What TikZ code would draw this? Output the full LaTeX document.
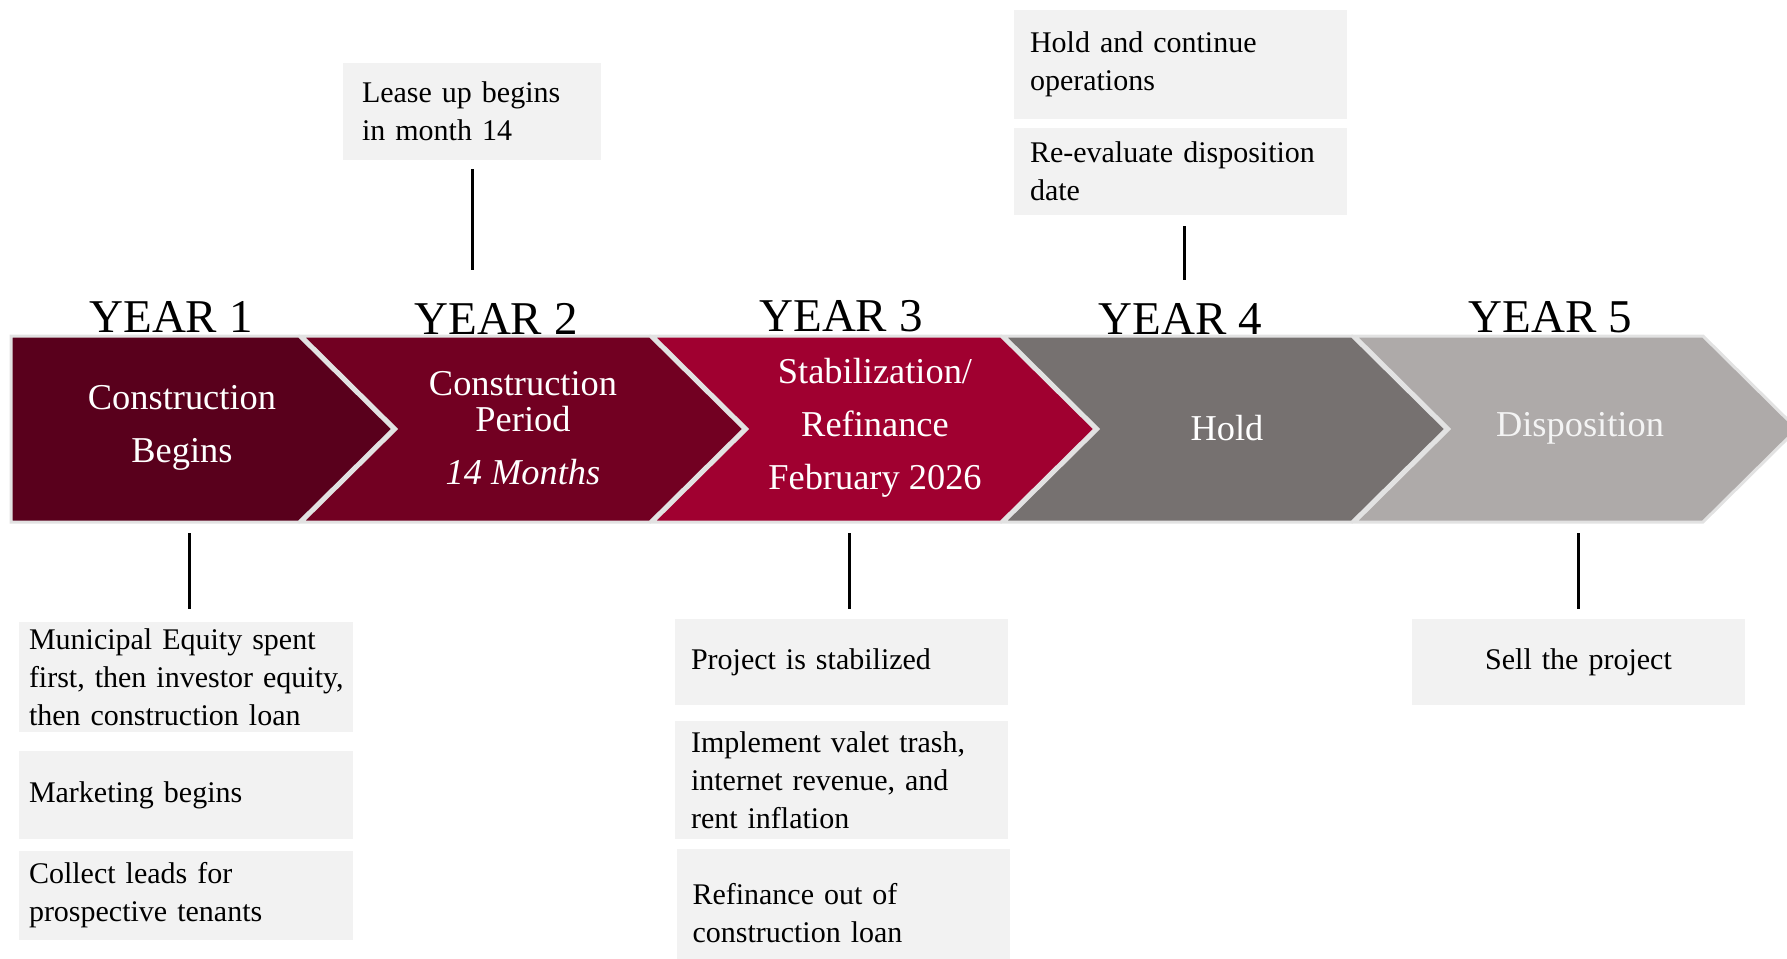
\documentclass[tikz,border=0pt]{standalone}
\usepackage{fontspec}
\setmainfont{Liberation Serif}
\definecolor{chone}{RGB}{89,0,28}
\definecolor{chtwo}{RGB}{114,0,34}
\definecolor{chthree}{RGB}{160,0,48}
\definecolor{chfour}{RGB}{118,113,112}
\definecolor{chfive}{RGB}{174,170,169}
\definecolor{chevline}{RGB}{226,226,226}
\definecolor{boxgray}{RGB}{242,242,242}
\definecolor{lighttext}{RGB}{244,244,244}
\begin{document}
\begin{tikzpicture}[x=0.5pt,y=-0.5pt,
  chev/.style={draw=chevline,line width=1.5pt,line join=miter},
  chevtext/.style={text=white,align=center,inner sep=0pt,font=\fontsize{18.2pt}{26.4pt}\selectfont},
  yearlbl/.style={anchor=base,inner sep=0pt,font=\fontsize{23.5pt}{28pt}\selectfont},
  infobox/.style={fill=boxgray,inner xsep=8pt,inner ysep=0pt,align=left,text width=150.5pt,font=\fontsize{15pt}{19pt}\selectfont},
  tick/.style={line width=1.5pt,black}]
\useasboundingbox (0,0) rectangle (1787,958);
\clip (0,0) rectangle (1787,958);

% chevrons
\draw[chev,fill=chone] (11,336) -- (299,336) -- (393,429) -- (299,522) -- (11,522) -- cycle;
\draw[chev,fill=chtwo] (302,336) -- (650,336) -- (744,429) -- (650,522) -- (302,522) -- (396,429) -- cycle;
\draw[chev,fill=chthree] (653,336) -- (1001,336) -- (1095,429) -- (1001,522) -- (653,522) -- (747,429) -- cycle;
\draw[chev,fill=chfour] (1004,336) -- (1352,336) -- (1446,429) -- (1352,522) -- (1004,522) -- (1098,429) -- cycle;
\draw[chev,fill=chfive] (1355,336) -- (1703,336) -- (1797,429) -- (1703,522) -- (1355,522) -- (1449,429) -- cycle;

% chevron texts
\node[chevtext] (t1) at (182,428) {Construction\\Begins};
\node[chevtext] (t2) at (523,428) {Construction\\[-8pt]Period\\\textit{14 Months}};
\node[chevtext] (t3) at (875,428) {Stabilization/\\Refinance\\February 2026};
\node[chevtext] (t4) at (1227,428) {Hold};
\node[chevtext,text=lighttext] (t5) at (1580,428) {Disposition};

% year labels
\node[yearlbl] (y1) at (171,332) {YEAR 1};
\node[yearlbl] (y2) at (496,334) {YEAR 2};
\node[yearlbl] (y3) at (841,331) {YEAR 3};
\node[yearlbl] (y4) at (1180,334) {YEAR 4};
\node[yearlbl] (y5) at (1550,332) {YEAR 5};

% info boxes
\node[infobox,text width=110pt,inner xsep=9.5pt,minimum height=48.5pt] (lease) at (472,111.5) {Lease up begins\\in month 14};
\node[infobox,minimum height=54.5pt] (hold) at (1180.5,64.5) {Hold and continue\\operations};
\node[infobox,minimum height=43.5pt] (reeval) at (1180.5,171.5) {Re-evaluate disposition\\date};
\node[infobox,text width=157pt,inner xsep=5pt,minimum height=55pt] (muni) at (186,677) {Municipal Equity spent\\\mbox{first, then investor equity,}\\then construction loan};
\node[infobox,text width=157pt,inner xsep=5pt,minimum height=44pt] (mkt) at (186,795) {Marketing begins};
\node[infobox,text width=157pt,inner xsep=5pt,minimum height=44.5pt] (leads) at (186,895.5) {Collect leads for\\prospective tenants};
\node[infobox,minimum height=43pt] (proj) at (841.5,662) {Project is stabilized};
\node[infobox,minimum height=59pt] (impl) at (841.5,780) {Implement valet trash,\\internet revenue, and\\rent inflation};
\node[infobox,minimum height=64pt] (refi) at (843,913) {Refinance out of\\construction loan};
\node[infobox,align=center,minimum height=43pt] (sell) at (1578.5,662) {Sell the project};

% connector ticks
\coordinate (a1) at (189,533); \coordinate (b1) at (189,609);
\coordinate (a2) at (472,169); \coordinate (b2) at (472,270);
\coordinate (a3) at (849,533); \coordinate (b3) at (849,609);
\coordinate (a4) at (1184,226); \coordinate (b4) at (1184,280);
\coordinate (a5) at (1578,533); \coordinate (b5) at (1578,609);
\draw[tick] (a1) -- (b1);
\draw[tick] (a2) -- (b2);
\draw[tick] (a3) -- (b3);
\draw[tick] (a4) -- (b4);
\draw[tick] (a5) -- (b5);
\end{tikzpicture}
\end{document}
